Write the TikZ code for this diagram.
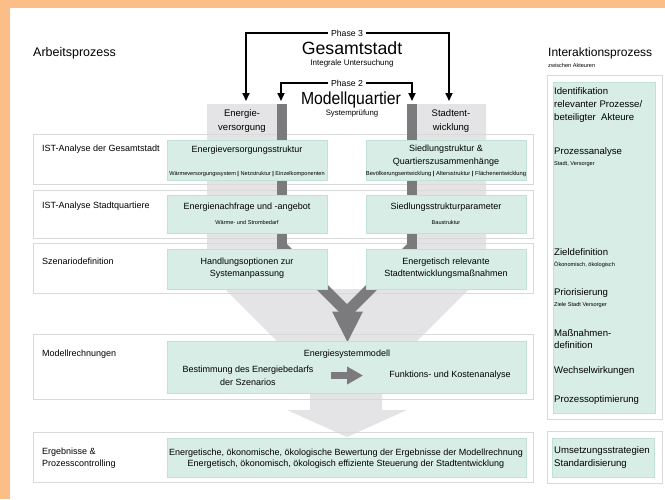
\documentclass[tikz,border=0pt]{standalone}
\usepackage{fontspec}
\setmainfont{Liberation Sans}
\newfontfamily\condfont[FakeStretch=0.9]{Liberation Sans}
\usetikzlibrary{arrows.meta}
\definecolor{orangebg}{HTML}{FBBE86}
\definecolor{lgray}{HTML}{E4E4E6}
\definecolor{dgray}{HTML}{7B7B7E}
\definecolor{mint}{HTML}{D7EDE5}
\definecolor{mintb}{HTML}{C2E1D5}
\definecolor{rowb}{HTML}{D9D9D9}
\newcommand{\fs}[1]{\fontsize{#1}{#1}\selectfont}
\begin{document}
\begin{tikzpicture}[x=1pt,y=-1pt,
  rowbox/.style={draw=rowb, line width=0.9pt},
  greenbox/.style={fill=mint, draw=mintb, line width=0.6pt},
  lbl/.style={anchor=base west, inner sep=0pt, font=\fs{9}},
  gtxt/.style={anchor=base, inner sep=0pt, font=\fs{9}},
  gsmall/.style={anchor=base, inner sep=0pt, font=\fs{5.6}},
  rtxt/.style={anchor=base west, inner sep=0pt, font=\fs{9.6}},
  rsmall/.style={anchor=base west, inner sep=0pt, font=\fs{5.6}},
  coltxt/.style={anchor=base, inner sep=0pt, font=\fs{9.5}},
  phase/.style={line width=1.8pt, -{Triangle[width=7pt,length=8pt]}},
  phlbl/.style={inner sep=2.5pt, font=\fs{8.7}}
]
\useasboundingbox (0,0) rectangle (665,499);
\fill[orangebg] (0,0) rectangle (665,499);
\fill[white] (10,8) rectangle (665,499);

% light gray columns and funnel
\fill[lgray] (207,104) -- (282,104) -- (282,289) -- (412,289) -- (412,104) -- (486,104)
  -- (486,272) -- (347,411) -- (207,271) -- cycle;
\fill[lgray] (310,392) -- (382,392) -- (382,410) -- (407,410) -- (347,437) -- (287,410) -- (310,410) -- cycle;

% row frames
\draw[rowbox] (33,134) rectangle (533,184);
\draw[rowbox] (33,190) rectangle (533,238);
\draw[rowbox] (33,243) rectangle (533,293);
\draw[rowbox] (33,334) rectangle (533,399);
\draw[rowbox] (33,432) rectangle (533,482);
\draw[rowbox] (547,75) rectangle (662,419);
\draw[rowbox] (547,431) rectangle (662,483);

% dark bars and V arrow
\fill[dgray] (277,104) rectangle (287,250);
\fill[dgray] (407,104) rectangle (417,250);
\draw[dgray, line width=11pt] (282,247) -- (347,312);
\draw[dgray, line width=11pt] (412,247) -- (347,312);
\fill[dgray] (332,311.5) -- (363,311.5) -- (347.5,342) -- cycle;

% green boxes
\draw[greenbox] (167,140) rectangle (327,180);
\draw[greenbox] (366,140) rectangle (526,180);
\draw[greenbox] (167,195) rectangle (327,233);
\draw[greenbox] (366,195) rectangle (526,233);
\draw[greenbox] (167,249) rectangle (327,289);
\draw[greenbox] (366,249) rectangle (526,289);
\draw[greenbox] (167,341) rectangle (526,393);
\draw[greenbox] (167,438) rectangle (526,477);
\draw[greenbox] (553,82) rectangle (655,413);
\draw[greenbox] (552,438) rectangle (654,477);

% titles
\node[anchor=base west, inner sep=0pt, font=\fs{12.5}] (arb) at (33,56.7) {Arbeitsprozess};
\node[anchor=base west, inner sep=0pt, font=\fs{12}] (inter) at (548,56.7) {Interaktionsprozess};
\node[rsmall] (zw) at (548,67) {zwischen Akteuren};

% phases
\node[phlbl] (p3) at (347,33) {Phase 3};
\node[anchor=base, inner sep=0pt, font=\fs{17.7}] (gesamt) at (352,54.4) {Gesamtstadt};
\node[anchor=base, inner sep=0pt, font=\fs{8}] (integ) at (352,65.7) {Integrale Untersuchung};
\node[phlbl] (p2) at (347,83) {Phase 2};
\node[anchor=base, inner sep=0pt, font=\condfont\fs{17.5}] (modq) at (351,104) {Modellquartier};
\node[anchor=base, inner sep=0pt, font=\fs{7.8}] (sysp) at (352,115.7) {Systemprüfung};

\node[coltxt] (energa) at (242,116.9) {Energie-};
\node[coltxt] (energb) at (242,130.9) {versorgung};
\node[coltxt] (stadta) at (451,116.9) {Stadtent-};
\node[coltxt] (stadtb) at (451,130.9) {wicklung};

\coordinate (t3l) at (246,101);
\coordinate (t3r) at (449,101);
\coordinate (t2l) at (281,101);
\coordinate (t2r) at (412,101);
\draw[phase] (p3.west) -| (t3l);
\draw[phase] (p3.east) -| (t3r);
\draw[phase] (p2.west) -| (t2l);
\draw[phase] (p2.east) -| (t2r);

% row labels
\node[lbl] (l1) at (42,151.7) {IST-Analyse der Gesamtstadt};
\node[lbl] (l2) at (42,208.7) {IST-Analyse Stadtquartiere};
\node[lbl] (l3) at (42,264.7) {Szenariodefinition};
\node[lbl] (l4) at (42,356.7) {Modellrechnungen};
\node[lbl] (l5a) at (42,454.7) {Ergebnisse \&};
\node[lbl] (l5b) at (42,466.5) {Prozesscontrolling};

% green texts
\node[gtxt] (g1l) at (247,152.3) {Energieversorgungsstruktur};
\node[gsmall] (s1l) at (247,175.3) {Wärmeversorgungssystem \textbf{|} Netzstruktur \textbf{|} Einzelkomponenten};
\node[gtxt] (g1ra) at (446,151.7) {Siedlungstruktur \&};
\node[gtxt] (g1rb) at (446,164.7) {Quartierszusammenhänge};
\node[gsmall, font=\fs{5.8}] (s1r) at (446,175.3) {Bevölkerungsentwicklung \textbf{|} Altersstruktur \textbf{|} Flächenentwicklung};
\node[gtxt] (g2l) at (247,209.7) {Energienachfrage und -angebot};
\node[gsmall] (s2l) at (247,224.3) {Wärme- und Strombedarf};
\node[gtxt] (g2r) at (446,209.7) {Siedlungsstrukturparameter};
\node[gsmall] (s2r) at (446,224.3) {Baustruktur};
\node[gtxt] (g3la) at (247,264.7) {Handlungsoptionen zur};
\node[gtxt] (g3lb) at (247,276.7) {Systemanpassung};
\node[gtxt] (g3ra) at (446,264.7) {Energetisch relevante};
\node[gtxt] (g3rb) at (446,276.7) {Stadtentwicklungsmaßnahmen};
\node[gtxt] (g4) at (347,356.7) {Energiesystemmodell};
\node[gtxt] (besta) at (248,372.7) {Bestimmung des Energiebedarfs};
\node[gtxt] (bestb) at (248,385.5) {der Szenarios};
\node[gtxt] (funk) at (450,377.7) {Funktions- und Kostenanalyse};
\node[gtxt] (g5a) at (346,455.3) {Energetische, ökonomische, ökologische Bewertung der Ergebnisse der Modellrechnung};
\node[gtxt] (g5b) at (346,466.7) {Energetisch, ökonomisch, ökologisch effiziente Steuerung der Stadtentwicklung};

\coordinate (ias) at (331,375.5);
\coordinate (iae) at (363,375.5);
\draw[dgray, line width=7pt, -{Triangle[width=17pt,length=16pt]}] (ias) -- (iae);

% right list
\node[rtxt] (r1a) at (554,94.3) {Identifikation};
\node[rtxt] (r1b) at (554,107.4) {relevanter Prozesse/};
\node[rtxt] (r1c) at (554,120.3) {beteiligter\ \ Akteure};
\node[rtxt] (r2) at (554,154.3) {Prozessanalyse};
\node[rsmall] (r2s) at (554,165.7) {Stadt, Versorger};
\node[rtxt] (r3) at (554,255.7) {Zieldefinition};
\node[rsmall] (r3s) at (554,266.7) {Ökonomisch, ökologisch};
\node[rtxt] (r4) at (554,295.3) {Priorisierung};
\node[rsmall] (r4s) at (554,306.7) {Ziele Stadt Versorger};
\node[rtxt] (r5a) at (554,336) {Maßnahmen-};
\node[rtxt] (r5b) at (554,348.3) {definition};
\node[rtxt] (r6) at (554,373.3) {Wechselwirkungen};
\node[rtxt] (r7) at (554,402.7) {Prozessoptimierung};
\node[rtxt] (r8a) at (554,453.8) {Umsetzungsstrategien};
\node[rtxt] (r8b) at (554,466.3) {Standardisierung};
\end{tikzpicture}
\end{document}
